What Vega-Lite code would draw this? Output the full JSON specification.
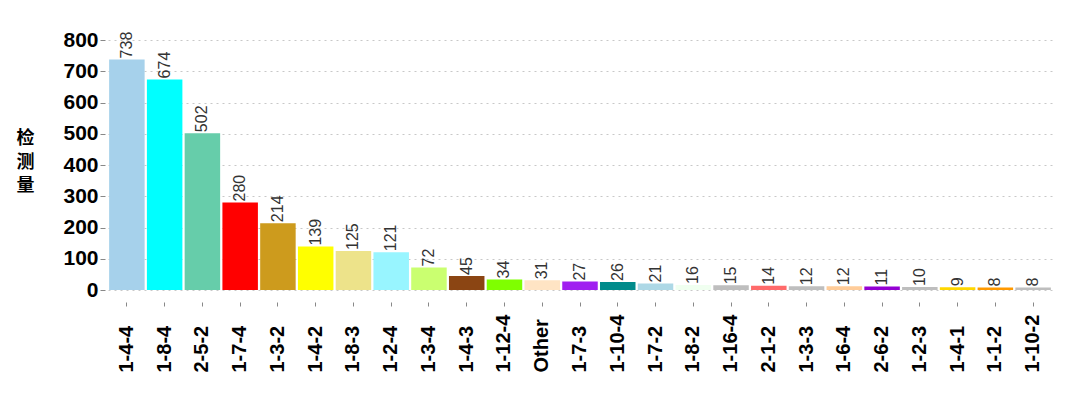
{
  "$schema": "https://vega.github.io/schema/vega-lite/v6.json",
  "width": 944,
  "height": 250,
  "autosize": {"type": "none"},
  "padding": {"left": 108, "top": 40, "right": 28, "bottom": 107},
  "background": "white",
  "config": {
    "view": {"stroke": null},
    "font": "Liberation Sans"
  },
  "data": {
    "values": [
      {"type": "1-4-4", "n": 738, "c": "#A6D1EB"},
      {"type": "1-8-4", "n": 674, "c": "#00FFFF"},
      {"type": "2-5-2", "n": 502, "c": "#66CDAA"},
      {"type": "1-7-4", "n": 280, "c": "#FF0000"},
      {"type": "1-3-2", "n": 214, "c": "#CD9B1D"},
      {"type": "1-4-2", "n": 139, "c": "#FFFF00"},
      {"type": "1-8-3", "n": 125, "c": "#EDE38A"},
      {"type": "1-2-4", "n": 121, "c": "#98F5FF"},
      {"type": "1-3-4", "n": 72, "c": "#CAFF70"},
      {"type": "1-4-3", "n": 45, "c": "#8B4513"},
      {"type": "1-12-4", "n": 34, "c": "#7FFF00"},
      {"type": "Other", "n": 31, "c": "#FFE4C4"},
      {"type": "1-7-3", "n": 27, "c": "#A020F0"},
      {"type": "1-10-4", "n": 26, "c": "#008B8B"},
      {"type": "1-7-2", "n": 21, "c": "#ADD8E6"},
      {"type": "1-8-2", "n": 16, "c": "#F0FFF0"},
      {"type": "1-16-4", "n": 15, "c": "#BEBEBE"},
      {"type": "2-1-2", "n": 14, "c": "#FF6A6A"},
      {"type": "1-3-3", "n": 12, "c": "#BEBEBE"},
      {"type": "1-6-4", "n": 12, "c": "#FFCC99"},
      {"type": "2-6-2", "n": 11, "c": "#9400D3"},
      {"type": "1-2-3", "n": 10, "c": "#BEBEBE"},
      {"type": "1-4-1", "n": 9, "c": "#FFD700"},
      {"type": "1-1-2", "n": 8, "c": "#FF9900"},
      {"type": "1-10-2", "n": 8, "c": "#BEBEBE"}
    ]
  },
  "encoding": {
    "x": {
      "field": "type",
      "type": "nominal",
      "sort": null,
      "scale": {"paddingInner": 0.06, "paddingOuter": 0.03},
      "axis": {
        "title": null,
        "labelAngle": -90,
        "labelAlign": "left",
        "labelBaseline": "middle",
        "labelFont": "Liberation Sans",
        "labelFontWeight": "bold",
        "labelFontSize": 20,
        "labelColor": "black",
        "labelPadding": 66,
        "offset": 12,
        "tickSize": 4,
        "tickColor": "#888888",
        "domain": false,
        "grid": false
      }
    },
    "y": {
      "field": "n",
      "type": "quantitative",
      "scale": {"domain": [0, 800], "nice": false},
      "axis": {
        "values": [0, 100, 200, 300, 400, 500, 600, 700, 800],
        "title": ["检", "测", "量"],
        "titleFont": "Noto Sans CJK SC",
        "titleFontSize": 18,
        "titleFontWeight": "bold",
        "titleColor": "black",
        "titleAngle": 0,
        "titleAlign": "center",
        "titleBaseline": "middle",
        "titleX": -80,
        "titleY": 98.5,
        "titleLineHeight": 23.5,
        "labelFont": "Liberation Sans",
        "labelFontWeight": "bold",
        "labelFontSize": 21,
        "labelColor": "black",
        "labelPadding": 2,
        "offset": 3,
        "tickSize": 5,
        "tickColor": "#888888",
        "domain": false,
        "grid": true,
        "gridColor": "#c8c8c8",
        "gridDash": [2, 4],
        "gridWidth": 1
      }
    }
  },
  "layer": [
    {
      "mark": {"type": "bar", "clip": false},
      "encoding": {
        "color": {"field": "c", "type": "nominal", "scale": null, "legend": null}
      }
    },
    {
      "mark": {"type": "text", "angle": -90, "align": "left", "baseline": "middle", "dx": 1, "fontSize": 16, "font": "Liberation Sans", "color": "#333333"},
      "encoding": {
        "text": {"field": "n", "type": "quantitative"}
      }
    }
  ]
}
